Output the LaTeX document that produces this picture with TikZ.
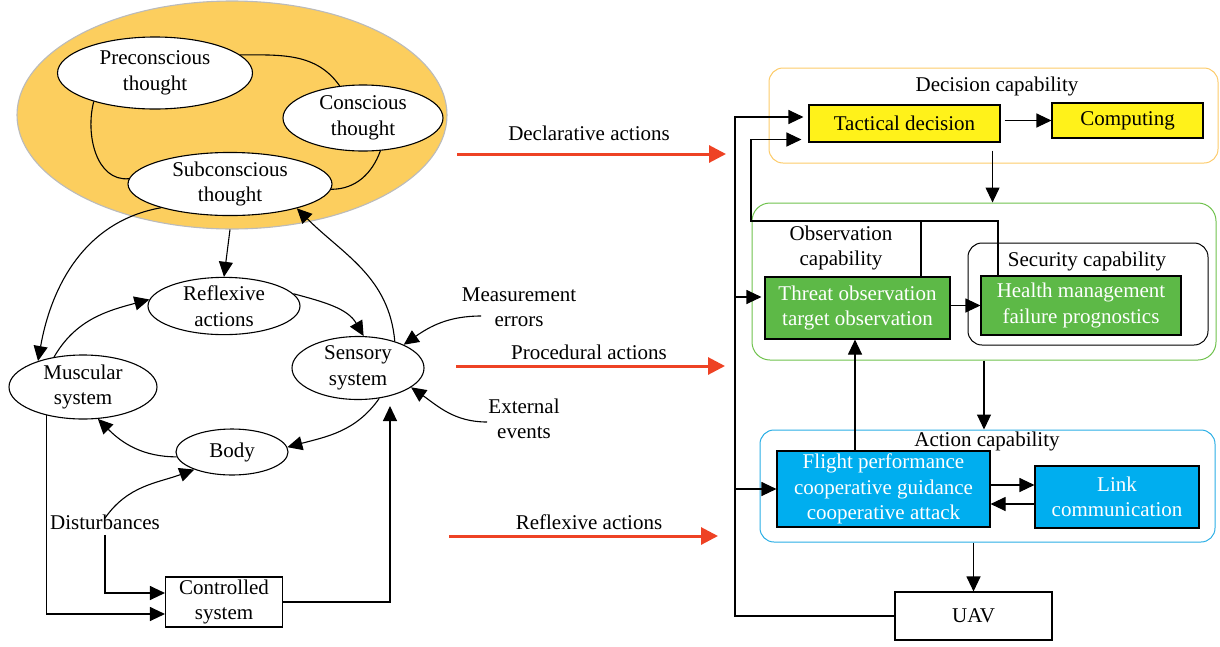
\documentclass[tikz,border=0pt]{standalone}
\usepackage{fontspec}
\setmainfont{Liberation Serif}
\usetikzlibrary{arrows.meta,shapes.geometric}

\definecolor{mindfill}{HTML}{FCCE5E}
\definecolor{mindline}{HTML}{BBBBBB}
\definecolor{redline}{HTML}{EE4224}
\definecolor{decline}{HTML}{FCCB6A}
\definecolor{decfill}{HTML}{FFF21A}
\definecolor{obsline}{HTML}{6FC24D}
\definecolor{obsfill}{HTML}{5DB947}
\definecolor{actline}{HTML}{2AAEE5}
\definecolor{actfill}{HTML}{00AEEF}

\begin{document}
\begin{tikzpicture}[x=1pt, y=1pt,
  font=\fontsize{21}{25.5}\selectfont,
  line width=1.1pt,
  oval/.style={ellipse, draw, inner sep=0pt, align=center},
  thought/.style={oval, fill=white},
  block/.style={rectangle, draw, inner sep=0pt, align=center},
  group/.style={rectangle, rounded corners=14pt, line width=1pt},
  arr/.style={-{Triangle[length=15pt,width=14pt]}},
  redarr/.style={draw=redline, line width=3pt, -{Triangle[length=17pt,width=17pt]}},
  lbl/.style={align=center, inner sep=0pt}]
  \useasboundingbox (0,0) rectangle (1220,-646);

  % Mind
  \node[oval, draw=mindline, fill=mindfill, minimum width=430, minimum height=228] (mind) at (232,-115) {};
  \node[thought, minimum width=195, minimum height=72] (pre) at (155,-73) {Preconscious\\thought};
  \node[thought, minimum width=160, minimum height=66] (con) at (363,-118) {Conscious\\thought};
  \node[thought, minimum width=204, minimum height=62] (sub) at (230,-184) {Subconscious\\thought};
  \draw (pre.12) to[out=0, in=125] (con.126);
  \draw (pre.205) to[out=255, in=185] (sub.177);
  \draw (con.-62) to[out=250, in=0] (sub.-3);

  % Body loop
  \node[oval, minimum width=152, minimum height=54] (reflex) at (224,-306) {Reflexive\\actions};
  \node[oval, minimum width=148, minimum height=64] (musc) at (83,-387) {Muscular\\system};
  \node[oval, minimum width=132, minimum height=63] (sens) at (358,-368) {Sensory\\system};
  \node[oval, minimum width=112, minimum height=46] (body) at (232,-452) {Body};
  \node[block, minimum width=117, minimum height=50] (ctrl) at (224,-602) {Controlled\\system};
  \node[lbl] (dist) at (105,-522) {Disturbances};
  \node[lbl] (meas) at (519,-307) {Measurement\\errors};
  \node[lbl] (ext) at (524,-419) {External\\events};
  \coordinate (measout) at (481,-316);
  \coordinate (extout) at (487,-422);
  \coordinate (sensin) at (390,-406);

  \draw[arr] (sub.south |- mind.south) -- (reflex.north);
  \draw[arr] (sub.199) to[out=190, in=80] (musc.150);
  \draw[arr] (sens.36) to[out=95, in=-45] (sub.-20);
  \draw[arr] (musc.134) to[out=60, in=195] (reflex.175);
  \draw[arr] (reflex.10) to[out=-15, in=120] (sens.80);
  \draw[arr] (sens.-55) to[out=235, in=15] (body.5);
  \draw[arr] (body.185) to[out=180, in=-45] (musc.-65);
  \draw[arr] ([yshift=-4pt]dist.north) to[out=55, in=200] (body.205);
  \draw[arr] (measout) to[out=180, in=35] (sens.27);
  \draw[arr] (extout) to[out=180, in=-35] (sens.-20);
  \draw[arr] ([yshift=-5pt]dist.south) |- ([yshift=9pt]ctrl.west);
  \draw[arr] (musc.218) |- ([yshift=-12pt]ctrl.west);
  \draw[arr] (ctrl.east) -| (sensin);

  % Actions
  \coordinate (dec0) at (457,-154);
  \coordinate (dec1) at (726,-154);
  \coordinate (pro0) at (456,-366);
  \coordinate (pro1) at (725,-366);
  \coordinate (ref0) at (449,-536);
  \coordinate (ref1) at (718,-536);
  \draw[redarr] (dec0) -- (dec1);
  \draw[redarr] (pro0) -- (pro1);
  \draw[redarr] (ref0) -- (ref1);
  \node[lbl] (declbl) at (589,-133) {Declarative actions};
  \node[lbl] (prolbl) at (589,-352) {Procedural actions};
  \node[lbl] (reflbl) at (589,-522) {Reflexive actions};

  % UAV capabilities
  \node[group, draw=decline, minimum width=449, minimum height=95] (dec) at (993.5,-115.5) {};
  \node[lbl] (declab) at (997,-86) {Decision capability};
  \node[block, fill=decfill, minimum width=191, minimum height=37] (tact) at (904.5,-123.5) {Tactical decision};
  \node[block, fill=decfill, minimum width=151, minimum height=35] (comp) at (1127.5,-120.5) {Computing};

  \node[group, rounded corners=18pt, draw=obsline, minimum width=464, minimum height=157] (obs) at (984,-281.5) {};
  \node[lbl] (obslab) at (841,-248) {Observation\\capability};
  \node[block, fill=obsfill, text=white, minimum width=185, minimum height=62] (threat) at (857.5,-308) {Threat observation\\target observation};
  \node[group, draw=black, minimum width=240, minimum height=102] (sec) at (1088,-294) {};
  \node[lbl] (seclab) at (1087,-261) {Security capability};
  \node[block, fill=obsfill, text=white, minimum width=200, minimum height=59] (health) at (1081,-305.5) {Health management\\failure prognostics};

  \node[group, draw=actline, minimum width=455, minimum height=112] (act) at (987.5,-486) {};
  \node[block, fill=actfill, text=white, minimum width=213, minimum height=76] (flight) at (883.5,-489) {Flight performance\\cooperative guidance\\cooperative attack};
  \node[block, fill=actfill, text=white, minimum width=164, minimum height=62] (link) at (1117,-497) {Link\\communication};
  \node[lbl] (actlab) at (987,-441) {Action capability};
  \node[block, minimum width=157, minimum height=48] (uav) at (973.5,-616) {UAV};

  \coordinate (loop) at (735,-117);
  \coordinate (fb) at (751,-221);
  \coordinate (thin) at ([yshift=11pt]threat.west);

  \draw[arr] ([xshift=4pt]tact.east |- comp.west) -- (comp.west);
  \draw[arr] ([xshift=-8pt,yshift=-8pt]tact.south east) -- ([xshift=-8pt]tact.south east |- obs.north);
  \draw[arr] (threat.east |- health.west) -- (health.west);
  \draw[arr, shorten >=7pt] ([xshift=-83pt]health.north) |- (fb) |- ([yshift=-16pt]tact.west);
  \draw ([xshift=63.5pt]threat.north) -- ([xshift=63.5pt]threat.north |- fb);
  \draw[arr, shorten >=5pt] (uav.west) -| (loop) -- ([yshift=6.5pt]tact.west);
  \draw[arr] (loop |- thin) -- ([xshift=-3pt]thin);
  \draw[arr] (loop |- flight.west) -- (flight.west);
  \draw[arr] ([xshift=-28.5pt]flight.north) -- ([xshift=-28.5pt]flight.north |- threat.south);
  \draw[arr] (obs.south) -- (obs.south |- act.north);
  \draw[arr] (uav.north |- act.south) -- (uav.north);
  \draw[arr] ([yshift=4pt]flight.east) -- ([yshift=4pt]flight.east -| link.west);
  \draw[arr] ([yshift=-7pt]link.west) -- ([yshift=-7pt]link.west -| flight.east);
\end{tikzpicture}
\end{document}
